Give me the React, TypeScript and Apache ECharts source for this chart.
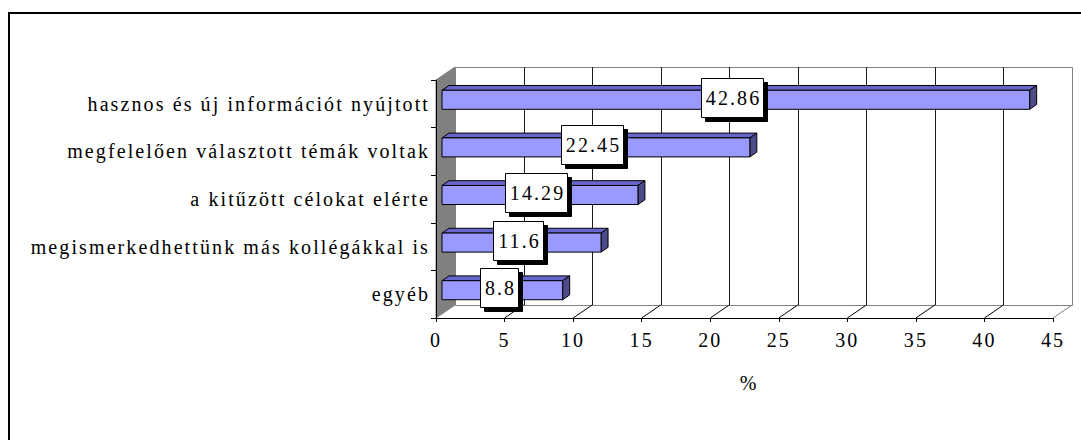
import React, { useEffect, useRef } from 'react';
import * as echarts from 'echarts';

const CATEGORIES = [
  'hasznos és új információt nyújtott',
  'megfelelően választott témák voltak',
  'a kitűzött célokat elérte',
  'megismerkedhettünk más kollégákkal is',
  'egyéb',
];
const VALUES = [42.86, 22.45, 14.29, 11.6, 8.8];
const VALUE_LABELS = ['42.86', '22.45', '14.29', '11.6', '8.8'];
const X_MIN = 0;
const X_MAX = 45;
const X_STEP = 5;
const X_TICKS = [0, 5, 10, 15, 20, 25, 30, 35, 40, 45];
const X_NAME = '%';

const FONT = '"Liberation Serif", "Times New Roman", serif';
const FS = 20;
const LS = 2.1;
const WALL_DX = 19;
const WALL_DY = -13;
const BAR_FRONT_DX = 6;
const BAR_FRONT_DY = -4;
const BAR_DEPTH_DX = 7;
const BAR_DEPTH_DY = -4.8;
const LABEL_DX = -3.5;
const LABEL_DY = -2.5;
const BOX_H = 39;
const BOX_PAD = 3.5;

const crisp = (v: number) => Math.round(v) + 0.5;

let measureCtx: CanvasRenderingContext2D | null = null;
function textWidth(t: string) {
  if (!measureCtx) measureCtx = document.createElement('canvas').getContext('2d');
  if (!measureCtx) return t.length * FS * 0.5;
  measureCtx.font = `${FS}px ${FONT}`;
  return measureCtx.measureText(t).width;
}

function renderWalls(params: any, api: any) {
  const cs = params.coordSys;
  const x0 = cs.x;
  const y0 = cs.y;
  const y1 = cs.y + cs.height;
  const children: any[] = [
    {
      type: 'polygon',
      shape: { points: [[x0, y0], [x0 + WALL_DX, y0 + WALL_DY], [x0 + WALL_DX, y1 + WALL_DY], [x0, y1]] },
      style: { fill: '#808080', stroke: '#808080', lineWidth: 1 },
    },
    {
      type: 'rect',
      shape: { x: crisp(x0 + WALL_DX), y: crisp(y0 + WALL_DY), width: Math.round(cs.width), height: Math.round(cs.height) },
      style: { fill: '#ffffff', stroke: '#808080', lineWidth: 1 },
    },
  ];
  X_TICKS.forEach((v) => {
    const x = api.coord([v, 0])[0];
    if (v > X_MIN && v < X_MAX) {
      children.push({
        type: 'line',
        shape: { x1: crisp(x + WALL_DX), y1: y0 + WALL_DY, x2: crisp(x + WALL_DX), y2: y1 + WALL_DY },
        style: { stroke: '#1a1a1a', lineWidth: 1 },
      });
    }
    if (v > X_MIN) {
      children.push({
        type: 'line',
        shape: { x1: x, y1: y1, x2: x + WALL_DX, y2: y1 + WALL_DY },
        style: { stroke: v === X_MAX ? '#808080' : '#000', lineWidth: 1 },
      });
    }
  });
  return { type: 'group', children };
}

function renderBar(params: any, api: any) {
  const v = api.value(0);
  const idx = api.value(1);
  const p0 = api.coord([0, idx]);
  const pv = api.coord([v, idx]);
  const band = api.size([0, 1])[1];
  const h = band * 0.4;
  const xl = p0[0] + BAR_FRONT_DX;
  const xr = pv[0] + BAR_FRONT_DX;
  const yc = p0[1] + BAR_FRONT_DY;
  const yt = yc - h / 2;
  const yb = yc + h / 2;
  const text = VALUE_LABELS[params.dataIndex];
  const lx = (xl + xr) / 2 + LABEL_DX;
  const ly = yc + LABEL_DY;
  const bw = Math.round(textWidth(text) + LS * (text.length - 1) + 2 * BOX_PAD + 2);
  const bx = Math.round(lx - bw / 2) + 0.5;
  const by = Math.round(ly - BOX_H / 2) + 0.5;
  const edge = { stroke: '#000', lineWidth: 1, lineJoin: 'round' };
  return {
    type: 'group',
    children: [
      {
        type: 'polygon',
        shape: { points: [[xl, yt], [xr, yt], [xr + BAR_DEPTH_DX, yt + BAR_DEPTH_DY], [xl + BAR_DEPTH_DX, yt + BAR_DEPTH_DY]] },
        style: { fill: '#6666cc', ...edge },
      },
      {
        type: 'polygon',
        shape: { points: [[xr, yt], [xr + BAR_DEPTH_DX, yt + BAR_DEPTH_DY], [xr + BAR_DEPTH_DX, yb + BAR_DEPTH_DY], [xr, yb]] },
        style: { fill: '#4c4c8a', ...edge },
      },
      {
        type: 'rect',
        shape: { x: xl, y: yt, width: xr - xl, height: yb - yt },
        style: { fill: '#9999ff', ...edge },
      },
      {
        type: 'rect',
        shape: { x: bx + 4, y: by + 4, width: bw, height: BOX_H },
        style: { fill: '#000', stroke: '#000', lineWidth: 1 },
      },
      {
        type: 'rect',
        shape: { x: bx, y: by, width: bw, height: BOX_H },
        style: { fill: '#fff', stroke: '#000', lineWidth: 1 },
      },
      {
        type: 'text',
        x: bx + bw / 2 + LS / 2,
        y: by + BOX_H / 2,
        style: {
          text,
          fontSize: FS,
          fontFamily: FONT,
          align: 'center',
          verticalAlign: 'middle',
          fill: '#000',
        },
      },
    ],
  };
}

export default function App() {
  const ref = useRef<HTMLDivElement>(null);
  useEffect(() => {
    if (!ref.current) return;
    const chart = echarts.init(ref.current, undefined, { renderer: 'svg' });
    chart.setOption({
      animation: false,
      backgroundColor: '#fff',
      textStyle: { fontFamily: FONT },
      grid: { left: 436, right: 28, top: 80, bottom: 122, containLabel: false },
      xAxis: {
        type: 'value',
        min: X_MIN,
        max: X_MAX,
        interval: X_STEP,
        z: 4,
        axisLine: { show: true, lineStyle: { color: '#000', width: 1 } },
        axisTick: { show: true, length: 4, lineStyle: { color: '#000' } },
        axisLabel: { margin: 12, fontSize: FS, fontFamily: FONT, color: '#000' },
        splitLine: { show: false },
        name: X_NAME,
        nameLocation: 'middle',
        nameGap: 55,
        nameTextStyle: { fontSize: FS, fontFamily: FONT, color: '#000', padding: [0, 0, 0, 9] },
      },
      yAxis: {
        type: 'category',
        data: CATEGORIES,
        inverse: true,
        z: 4,
        axisLine: { show: true, lineStyle: { color: '#000', width: 1 } },
        axisTick: { show: true, length: 5, lineStyle: { color: '#000' } },
        axisLabel: { margin: 6, interval: 0, fontSize: FS, fontFamily: FONT, color: '#000' },
        splitLine: { show: false },
      },
      graphic: [
        {
          type: 'rect',
          silent: true,
          z: -10,
          shape: { x: 9, y: 13, width: 1100, height: 500 },
          style: { fill: 'none', stroke: '#000', lineWidth: 2 },
        },
      ],
      series: [
        {
          type: 'custom',
          z: 1,
          silent: true,
          renderItem: renderWalls,
          data: [[0, 0]],
          encode: { x: 0, y: 1 },
        },
        {
          type: 'custom',
          z: 5,
          silent: true,
          renderItem: renderBar,
          data: VALUES.map((v, i) => [v, i]),
          encode: { x: 0, y: 1 },
        },
      ],
    });
    return () => chart.dispose();
  }, []);
  return (
    <>
      <style>{`#chart-box text { letter-spacing: ${LS}px; font-family: "Liberation Serif", "Times New Roman", serif !important; }`}</style>
      <div
        id="chart-box"
        ref={ref}
        style={{ position: 'absolute', left: 0, top: 0, width: 1081, height: 440, background: '#fff' }}
      />
    </>
  );
}
